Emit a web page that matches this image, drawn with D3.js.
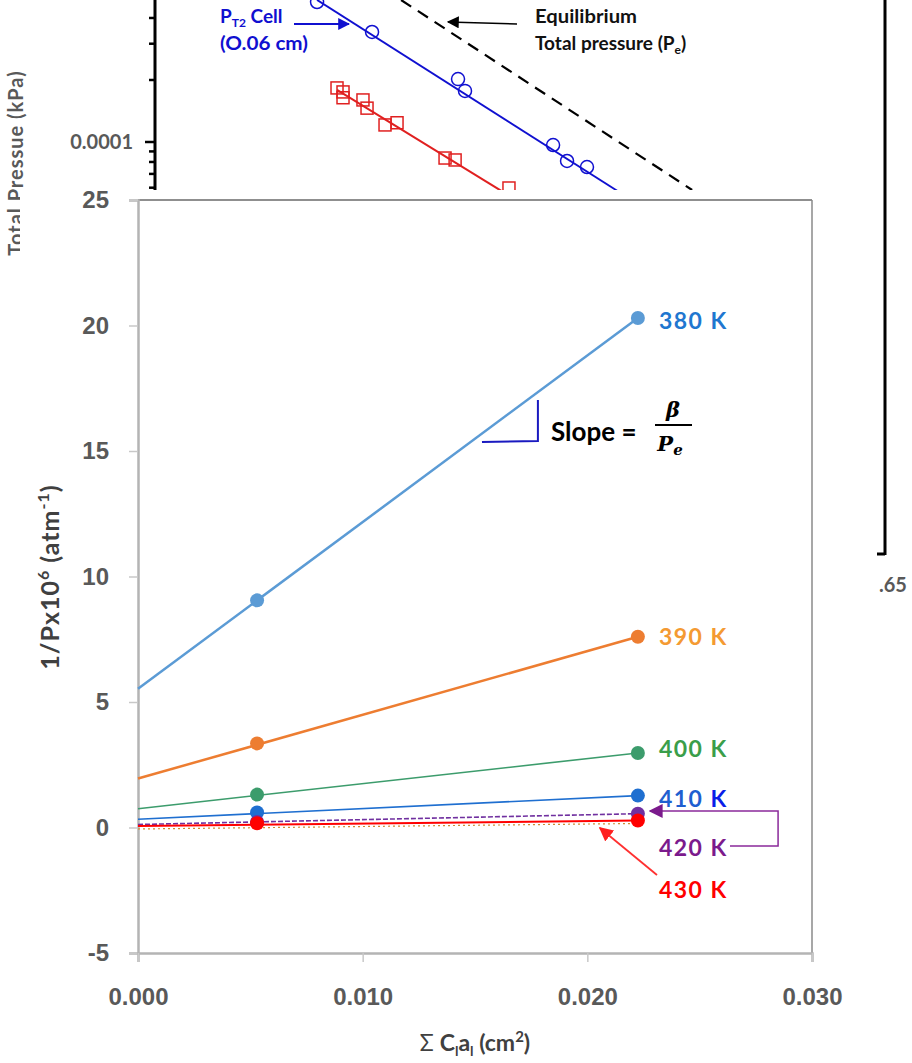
<!DOCTYPE html>
<meta charset="utf-8">
<script src="https://d3js.org/d3.v7.min.js"></script>
<style>
    body { margin: 0; background: #fff; }
    svg { display: block; font-family: Lato, "Open Sans", sans-serif; }
    .tick text { font-weight: 700; fill: #595959; }
</style>
<body>
<div id="chart"></div>
<script>
    // ---- main chart data (1/P x10^6 vs sum Ci ai) ----
    const temps = ["380 K", "390 K", "400 K", "410 K", "420 K", "430 K"];
    const sumCa = [0.0053, 0.02225];
    const invP = [
        [9.05, 20.3],
        [3.35, 7.6],
        [1.31, 2.97],
        [0.60, 1.27],
        [0.22, 0.55],
        [0.17, 0.28]
    ];
    const intercepts = [5.53, 1.95, 0.75, 0.33, 0.12, 0.06];
    const labelY = [20.2, 7.6, 3.13, 1.14, -0.82, -2.49];
    const xTicks = [0, 0.01, 0.02, 0.03];
    const yTicks = [-5, 0, 5, 10, 15, 20, 25];

    const lineCol = ["#5b9bd5", "#ed7d31", "#3c9c6c", "#1f6fd0", "#7030a0", "#ff0000"];
    const textCol = ["#1f77d0", "#f49a32", "#3a9e4a", "#1f5fd0", "#7b1a8c", "#ff0000"];
    const lineW = [2.5, 2.5, 1.6, 1.6, 1.6, 2];

    // ---- background chart data (log total pressure vs 1000/T) ----
    const cellX = [2.2999, 2.3338, 2.3868, 2.3911, 2.4454, 2.4540, 2.4663];
    const cellY = [4.78e-4, 3.42e-4, 2.02e-4, 1.77e-4, 0.967e-4, 0.809e-4, 0.756e-4];
    const sqX = [2.3122, 2.3159, 2.3159, 2.3282, 2.3307, 2.3418, 2.3492, 2.3788, 2.3850, 2.4182];
    const sqY = [1.83e-4, 1.75e-4, 1.64e-4, 1.60e-4, 1.46e-4, 1.21e-4, 1.24e-4, 0.836e-4, 0.818e-4, 0.598e-4];
    const cellFit = [[2.2999, 4.89e-4], [2.4861, 0.572e-4]];
    const sqFit = [[2.3122, 1.79e-4], [2.4145, 0.572e-4]];
    const eqFit = [[2.3517, 4.89e-4], [2.5311, 0.585e-4]];
    const bgMinor = [6e-5, 7e-5, 8e-5, 9e-5, 2e-4, 3e-4, 4e-4];

    const W = 912, H = 1063;
    const svg = d3.select("#chart").append("svg").attr("width", W).attr("height", H);

    // ===== background chart =====
    const bx = d3.scaleLinear().domain([2.2, 2.65]).range([155, 885]);
    const by = d3.scaleLog().domain([1e-5, 1e-3]).range([348, -64]);
    const bg = svg.append("g");

    bg.append("line").attr("x1", 155).attr("x2", 155).attr("y1", 0).attr("y2", 300)
        .attr("stroke", "#000").attr("stroke-width", 3);
    bg.append("line").attr("x1", 885).attr("x2", 885).attr("y1", 0).attr("y2", 555)
        .attr("stroke", "#000").attr("stroke-width", 3);
    bg.append("line").attr("x1", 155).attr("x2", 885).attr("y1", 554).attr("y2", 554)
        .attr("stroke", "#000").attr("stroke-width", 3);

    bgMinor.forEach(v => {
        bg.append("line").attr("x1", 149).attr("x2", 155).attr("y1", by(v)).attr("y2", by(v))
            .attr("stroke", "#000").attr("stroke-width", 2.5);
    });
    bg.append("line").attr("x1", 145).attr("x2", 155).attr("y1", by(1e-4)).attr("y2", by(1e-4))
        .attr("stroke", "#000").attr("stroke-width", 2.5);
    bg.append("text").attr("x", 133).attr("y", by(1e-4)).attr("dy", "0.35em")
        .attr("text-anchor", "end").attr("font-size", 20).attr("font-weight", 700)
        .attr("fill", "#595959").text("0.0001");
    bg.append("text").attr("transform", "translate(16,163) rotate(-90)")
        .attr("text-anchor", "middle").attr("dy", "0.35em").attr("font-size", 20)
        .attr("letter-spacing", 1).attr("font-weight", 700).attr("fill", "#595959")
        .text("Total Pressue (kPa)");
    bg.append("text").attr("x", 879).attr("y", 592).attr("font-size", 20)
        .attr("font-weight", 700).attr("fill", "#595959").text(".65");

    const bline = d3.line().x(d => bx(d[0])).y(d => by(d[1]));
    bg.append("path").attr("d", bline(eqFit)).attr("fill", "none")
        .attr("stroke", "#000").attr("stroke-width", 2.2).attr("stroke-dasharray", "12,8");
    bg.append("path").attr("d", bline(cellFit)).attr("fill", "none")
        .attr("stroke", "#1010d0").attr("stroke-width", 2);
    bg.append("path").attr("d", bline(sqFit)).attr("fill", "none")
        .attr("stroke", "#e02020").attr("stroke-width", 2);

    bg.selectAll(".circ").data(cellX).join("circle")
        .attr("cx", d => bx(d)).attr("cy", (d, i) => by(cellY[i])).attr("r", 6.5)
        .attr("fill", "none").attr("stroke", "#1010d0").attr("stroke-width", 1.5);
    bg.selectAll(".sq").data(sqX).join("rect")
        .attr("x", d => bx(d) - 6).attr("y", (d, i) => by(sqY[i]) - 6)
        .attr("width", 12).attr("height", 12)
        .attr("fill", "none").attr("stroke", "#e02020").attr("stroke-width", 1.5);

    const defs = svg.append("defs");
    function marker(id, col, size) {
        defs.append("marker").attr("id", id).attr("viewBox", "0 0 10 10")
            .attr("refX", 9).attr("refY", 5).attr("markerWidth", size).attr("markerHeight", size)
            .attr("markerUnits", "userSpaceOnUse").attr("orient", "auto")
            .append("path").attr("d", "M0,0L10,5L0,10z").attr("fill", col);
    }
    marker("arBlue", "#1010d0", 12);
    marker("arBlack", "#000", 12);
    marker("arPurple", "#7b1a8c", 14);
    marker("arRed", "#ff2020", 14);

    bg.append("line").attr("x1", 294).attr("y1", 24).attr("x2", 349).attr("y2", 24)
        .attr("stroke", "#1010d0").attr("stroke-width", 1.8).attr("marker-end", "url(#arBlue)");
    bg.append("line").attr("x1", 517).attr("y1", 24).attr("x2", 448).attr("y2", 22)
        .attr("stroke", "#000").attr("stroke-width", 1.5).attr("marker-end", "url(#arBlack)");

    const pt = bg.append("text").attr("x", 220).attr("y", 23).attr("font-size", 19)
        .attr("font-weight", 700).attr("fill", "#1010d0");
    pt.append("tspan").text("P");
    pt.append("tspan").attr("font-size", 12).attr("dy", 4).text("T2");
    pt.append("tspan").attr("dy", -4).text(" Cell");
    bg.append("text").attr("x", 220).attr("y", 50).attr("font-size", 19)
        .attr("font-weight", 700).attr("fill", "#1010d0")
        .attr("textLength", 88).attr("lengthAdjust", "spacingAndGlyphs").text("(O.06 cm)");

    bg.append("text").attr("x", 535).attr("y", 23).attr("font-size", 19)
        .attr("font-weight", 700).attr("fill", "#111")
        .attr("textLength", 102).attr("lengthAdjust", "spacingAndGlyphs").text("Equilibrium");
    const tp = bg.append("text").attr("x", 535).attr("y", 50).attr("font-size", 19)
        .attr("font-weight", 700).attr("fill", "#111");
    tp.append("tspan").text("Total pressure (P");
    tp.append("tspan").attr("font-size", 12).attr("dy", 4).text("e");
    tp.append("tspan").attr("dy", -4).text(")");

    // ===== main chart (overlay) =====
    svg.append("rect").attr("x", 20).attr("y", 190).attr("width", 857).attr("height", H - 190)
        .attr("fill", "#fff");

    const x = d3.scaleLinear().domain([0, 0.03]).range([138, 812]);
    const y = d3.scaleLinear().domain([-5, 25]).range([953, 200]);
    const g = svg.append("g");

    // frame
    g.append("line").attr("x1", x(0)).attr("x2", x(0.03)).attr("y1", y(25)).attr("y2", y(25))
        .attr("stroke", "#6a6a6a").attr("stroke-width", 1.5);
    g.append("line").attr("x1", x(0.03)).attr("x2", x(0.03)).attr("y1", y(25)).attr("y2", y(-5))
        .attr("stroke", "#8a8a8a").attr("stroke-width", 1.5);

    const yAxis = g.append("g").attr("transform", `translate(${x(0)},0)`)
        .call(d3.axisLeft(y).tickValues(yTicks).tickSize(9).tickPadding(20).tickFormat(d => String(d)));
    const xAxis = g.append("g").attr("transform", `translate(0,${y(-5)})`)
        .call(d3.axisBottom(x).tickValues(xTicks).tickSize(9).tickPadding(26).tickFormat(d => d.toFixed(3)));
    [yAxis, xAxis].forEach(a => {
        a.select(".domain").attr("stroke", "#b4b4b4").attr("stroke-width", 2.5);
        a.selectAll(".tick line").attr("stroke", "#c8c8c8").attr("stroke-width", 1.5);
        a.selectAll(".tick text").attr("font-size", 24);
    });

    // series lines (trend from x=0) and points
    temps.forEach((t, i) => {
        const ln = g.append("line")
            .attr("x1", x(0)).attr("y1", y(intercepts[i]))
            .attr("x2", x(sumCa[1])).attr("y2", y(invP[i][1]))
            .attr("stroke", lineCol[i]).attr("stroke-width", lineW[i]);
        if (i === 4) ln.attr("stroke-dasharray", "5,2");
    });
    // faint dotted trend under the red series
    g.append("line").attr("x1", x(0)).attr("y1", y(intercepts[5]) + 3)
        .attr("x2", x(sumCa[1])).attr("y2", y(invP[5][1]) + 3)
        .attr("stroke", "#d08a30").attr("stroke-width", 1.2).attr("stroke-dasharray", "2,3");

    temps.forEach((t, i) => {
        g.selectAll(".p" + i).data(sumCa).join("circle")
            .attr("cx", d => x(d)).attr("cy", (d, j) => y(invP[i][j]))
            .attr("r", 7).attr("fill", lineCol[i]);
        const lb = g.append("text").attr("x", x(sumCa[1]) + 21).attr("y", y(labelY[i]))
            .attr("dy", "0.35em").attr("font-size", 23).attr("font-weight", 700)
            .attr("letter-spacing", 1.5).attr("fill", textCol[i]);
        const parts = t.split(" ");
        lb.append("tspan").text(parts[0] + " ");
        lb.append("tspan").attr("fill", i === 3 ? "#0a1ee8" : textCol[i]).text(parts[1]);
    });

    // slope annotation
    g.append("path")
        .attr("d", `M${x(0.01531)},${y(15.36)}L${x(0.0178)},${y(15.4)}L${x(0.0178)},${y(17.03)}`)
        .attr("fill", "none").attr("stroke", "#1a1ac0").attr("stroke-width", 2);
    g.append("text").attr("x", 551).attr("y", 432).attr("dy", "0.35em")
        .attr("font-size", 26).attr("font-weight", 700).attr("fill", "#000").text("Slope =");
    g.append("text").attr("x", 673).attr("y", 417).attr("text-anchor", "middle")
        .attr("font-family", "DejaVu Serif").attr("font-style", "italic").attr("font-weight", 700)
        .attr("font-size", 21).attr("fill", "#000").text("β");
    g.append("line").attr("x1", 655).attr("x2", 692).attr("y1", 425).attr("y2", 425)
        .attr("stroke", "#000").attr("stroke-width", 2);
    const pe = g.append("text").attr("x", 670).attr("y", 451).attr("text-anchor", "middle")
        .attr("font-family", "DejaVu Serif").attr("font-style", "italic").attr("font-weight", 700)
        .attr("font-size", 21).attr("fill", "#000");
    pe.append("tspan").text("P");
    pe.append("tspan").attr("font-size", 15).attr("dy", 4).text("e");

    // purple bracket arrow to 420 K
    g.append("path")
        .attr("d", `M${x(0.02635)},${y(-0.74)}L${x(0.02849)},${y(-0.74)}L${x(0.02849)},${y(0.66)}L${x(0.02279)},${y(0.66)}`)
        .attr("fill", "none").attr("stroke", "#8a2a9a").attr("stroke-width", 1.5)
        .attr("marker-end", "url(#arPurple)");
    // red arrow to 430 K
    g.append("line").attr("x1", x(0.0231)).attr("y1", y(-1.89))
        .attr("x2", x(0.02056)).attr("y2", y(-0.02))
        .attr("stroke", "#ff3030").attr("stroke-width", 1.8).attr("marker-end", "url(#arRed)");

    // axis titles
    const yt = g.append("text").attr("transform", "translate(50,577) rotate(-90)")
        .attr("text-anchor", "middle").attr("dy", "0.35em").attr("font-size", 25)
        .attr("letter-spacing", 1).attr("font-weight", 700).attr("fill", "#404040");
    yt.append("tspan").text("1/Px10");
    yt.append("tspan").attr("font-size", 16).attr("dy", -10).text("6");
    yt.append("tspan").attr("dy", 10).text(" (atm");
    yt.append("tspan").attr("font-size", 16).attr("dy", -10).text("-1");
    yt.append("tspan").attr("dy", 10).text(")");

    const xt = g.append("text").attr("x", 475).attr("y", 1043).attr("dy", "0.35em")
        .attr("text-anchor", "middle").attr("font-size", 23).attr("font-weight", 700)
        .attr("fill", "#404040");
    xt.append("tspan").attr("font-weight", 400).text("Σ ");
    xt.append("tspan").text("C");
    xt.append("tspan").attr("font-size", 14).attr("dy", 5).text("l");
    xt.append("tspan").attr("dy", -5).text("a");
    xt.append("tspan").attr("font-size", 14).attr("dy", 5).text("l");
    xt.append("tspan").attr("dy", -5).text(" (cm");
    xt.append("tspan").attr("font-size", 15).attr("dy", -9).text("2");
    xt.append("tspan").attr("dy", 9).text(")");
</script>
</body>
